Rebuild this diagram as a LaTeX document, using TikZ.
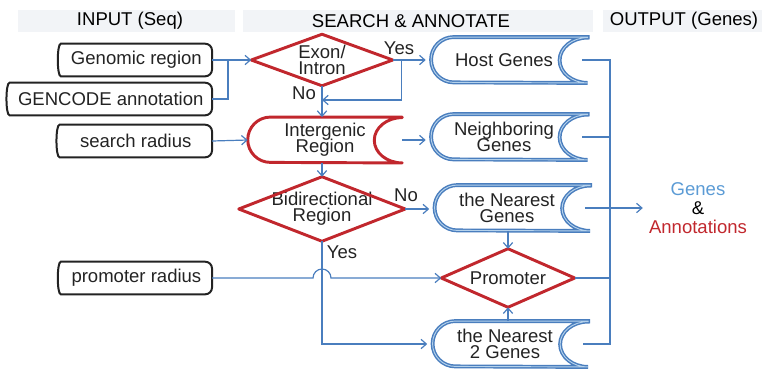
\documentclass[tikz,border=0pt]{standalone}
\usepackage{fontspec}
\setmainfont{Liberation Sans}
\usetikzlibrary{arrows.meta}

\definecolor{flowred}{RGB}{193,39,45}
\definecolor{flowblue}{RGB}{74,126,190}
\definecolor{geneblue}{RGB}{91,155,213}
\definecolor{headfill}{RGB}{242,244,247}
\definecolor{inkgray}{RGB}{35,35,35}

\tikzset{
  % text holder, its outline is drawn afterwards by the macros below
  holder/.style={inner sep=0pt, align=center, text=inkgray,
    font={\fontsize{13.9}{12}\selectfont\lineskiplimit=-20pt}},
  headtext/.style={holder, text=black},
  inputnode/.style={holder, minimum height=24pt, anchor=east},
  tapenode/.style={holder, minimum height=34pt},
  % line styles
  inline/.style={draw=inkgray, line width=1.5pt, rounded corners=5pt},
  redline/.style={draw=flowred, line width=2.2pt, line join=round},
  blueline/.style={draw=flowblue, line width=1.1pt, double=geneblue!45, double distance=0.7pt},
  conn/.style={draw=flowblue, line width=0.9pt},
  arr/.style={conn, -{Straight Barb[length=4pt,width=7pt]}},
}

% input box: bracket on the left, round corners on the right
\newcommand{\inputoutline}[1]{%
  \draw[inline] ([xshift=5pt]#1.south west)
    .. controls ([xshift=-3pt]#1.south west) and ([xshift=-3pt]#1.north west) ..
    ([xshift=5pt]#1.north west) -- (#1.north east) -- (#1.south east) -- cycle;}
% decision diamond
\newcommand{\diamondoutline}[1]{%
  \draw[redline] (#1.west) -- (#1.north) -- (#1.east) -- (#1.south) -- cycle;}
% tape: round on the left, hollow on the right (style, node, shift)
\newcommand{\tapeoutline}[3]{%
  \draw[#1] ([xshift=#3]#2.north east) -- ([xshift=#3+17pt]#2.north west)
    arc[start angle=90,end angle=270,radius=17pt] -- ([xshift=#3]#2.south east)
    arc[start angle=270,end angle=90,x radius=21pt,y radius=17pt] -- cycle;}

\begin{document}
\begin{tikzpicture}[x=0.75pt, y=-0.75pt]
\useasboundingbox (0,0) rectangle (762,369);

% column heads
\fill[headfill] (18,10) rectangle (235,32);
\fill[headfill] (243,10) rectangle (593,32);
\fill[headfill] (603,10) rectangle (762,32);
\node[headtext] (inhead) at (130,21) {INPUT (Seq)};
\node[headtext] (annhead) at (411,21) {SEARCH \& ANNOTATE};
\node[headtext] (outhead) at (684,21) {OUTPUT (Genes)};

% inputs
\node[inputnode, minimum width=113pt] (genomic) at (212,60) {Genomic region};
\node[inputnode, minimum width=151.5pt] (gencode) at (212,99) {GENCODE annotation};
\node[inputnode, minimum width=114pt] (search) at (212,141) {search radius};
\node[inputnode, minimum width=113pt] (promrad) at (212,278) {promoter radius};

% search steps
\node[holder, minimum width=105.75pt, minimum height=38.25pt] (exon) at (322,60) {Exon/\\Intron};
\node[tapenode, minimum width=115.5pt] (inter) at (325,140) {Intergenic\\Region};
\node[holder, minimum width=124.5pt, minimum height=48pt] (bidir) at (322,209) {Bidirectional\\Region};
\node[holder, minimum width=99.75pt, minimum height=43.5pt] (prom) at (508,278) {Promoter};

% outputs
\node[tapenode, minimum width=117pt] (host) at (504,60) {Host Genes};
\node[tapenode, minimum width=117pt] (neigh) at (504,137) {Neighboring\\Genes};
\node[tapenode, minimum width=116.25pt] (near) at (507,208) {the Nearest\\Genes};
\node[tapenode, minimum width=116.25pt] (near2) at (505,344) {the Nearest\\2 Genes};
\node[holder, font={\fontsize{13.9}{14.3}\selectfont}] (result) at (698,208)
  {\textcolor{geneblue}{Genes}\\\textcolor{black}{\&}\\\textcolor{flowred}{Annotations}};

% branch labels
\node[holder] (yes1) at (399,48) {Yes};
\node[holder] (no1) at (304,93) {No};
\node[holder] (no2) at (406,195) {No};
\node[holder] (yes2) at (342,252) {Yes};

% outlines
\inputoutline{genomic}
\inputoutline{gencode}
\inputoutline{search}
\inputoutline{promrad}
\diamondoutline{exon}
\diamondoutline{bidir}
\diamondoutline{prom}
\tapeoutline{redline}{inter}{0pt}
\tapeoutline{blueline}{host}{4pt}
\tapeoutline{blueline}{neigh}{4pt}
\tapeoutline{blueline}{near}{4pt}
\tapeoutline{blueline}{near2}{4pt}

% connectors
\coordinate (join) at (228,60);
\coordinate (merge) at (322,100);
\coordinate (bus) at (610,60);
\coordinate (hop) at (322,278);

\draw[arr] (genomic.east) -- (exon.west);
\draw[conn] (gencode.east) -| (join);
\draw[arr] (exon.east) -- (host.west);
\draw[arr] (exon.east) -- ++(9,0) |- (merge);
\draw[arr] (exon.south) -- (exon.south |- inter.north);
\draw[arr] (search.east) -- (inter.west);
\draw[arr] (inter.east) -- (inter.east -| neigh.west);
\draw[arr] (inter.south -| bidir.north) -- (bidir.north);
\draw[arr] (bidir.east) -- (bidir.east -| near.west);
\draw[arr] (bidir.south) |- (near2.west);
\draw[arr] (promrad.east) -- ([xshift=-6.75pt]hop)
  arc[start angle=180,end angle=0,radius=6.75pt] -- (prom.west);
\draw[arr] (near.south -| prom.north) -- (prom.north);
\draw[arr] (near2.north -| prom.south) -- (prom.south);
\draw[conn] (host.east) -| (bus |- near2.east) -- (near2.east);
\draw[conn] (neigh.east) -- (neigh.east -| bus);
\draw[conn] (prom.east) -- (prom.east -| bus);
\draw[arr, shorten >=4.5pt] (near.east) -- (result.west);
\end{tikzpicture}
\end{document}
